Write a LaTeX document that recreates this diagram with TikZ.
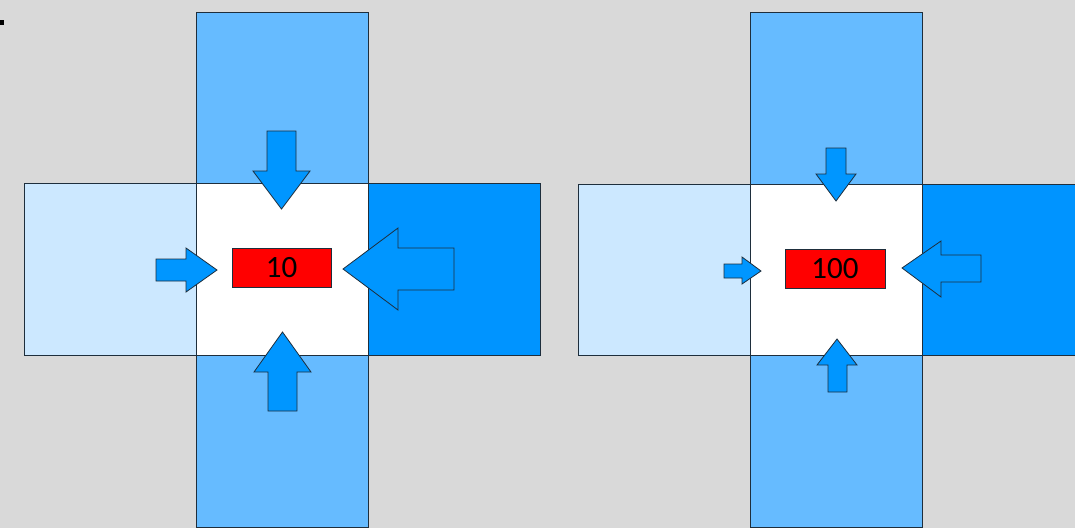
\documentclass[tikz,border=0pt]{standalone}
\usepackage{fontspec}
\setmainfont{Carlito}
\definecolor{bg}{HTML}{D9D9D9}
\definecolor{lightb}{HTML}{CCE8FF}
\definecolor{midb}{HTML}{66BBFF}
\definecolor{darkb}{HTML}{0094FF}
\definecolor{arrowb}{HTML}{0096FF}
\definecolor{edge}{HTML}{1E2E3C}
\begin{document}
\begin{tikzpicture}[x=1pt,y=-1pt,
  cell/.style={draw=edge,line width=0.8pt},
  arr/.style={fill=arrowb,draw=edge,line width=0.8pt,line join=miter},
  redbox/.style={draw=edge,line width=0.8pt,fill=red,minimum width=99pt,minimum height=39pt,inner sep=0pt,font=\fontsize{31}{31}\selectfont}]
\useasboundingbox (0,0) rectangle (1075,528);
\clip (0,0) rectangle (1075,528);
\fill[bg] (0,0) rectangle (1075,528);
\fill[black] (0,20) rectangle (4,25);
% ---------- left figure ----------
\draw[cell,fill=midb] (196,12) rectangle (368,527);
\draw[cell,fill=lightb] (24,183) rectangle (196,355);
\draw[cell,fill=darkb] (368,183) rectangle (540,355);
\draw[cell,fill=white] (196,183) rectangle (368,355);
\node[redbox] (v1) at (281.5,267.5) {10};
% top arrow
\draw[arr] (267,131) -- (296,131) -- (296,171) -- (310,171) -- (281.5,209) -- (253,171) -- (267,171) -- cycle;
% left arrow
\draw[arr] (156,259) -- (186,259) -- (186,248) -- (217,270) -- (186,292) -- (186,281) -- (156,281) -- cycle;
% right arrow
\draw[arr] (454,248) -- (398,248) -- (398,228) -- (343,269) -- (398,310) -- (398,290) -- (454,290) -- cycle;
% bottom arrow
\draw[arr] (268,411) -- (297,411) -- (297,372) -- (311,372) -- (282.5,332) -- (254,372) -- (268,372) -- cycle;
% ---------- right figure ----------
\draw[cell,fill=midb] (750,12) rectangle (922,527);
\draw[cell,fill=lightb] (578,184) rectangle (750,355);
\draw[cell,fill=darkb] (922,184) rectangle (1090,355);
\draw[cell,fill=white] (750,184) rectangle (922,355);
\node[redbox,minimum width=100pt] (v2) at (835,268.5) {100};
% top arrow
\draw[arr] (826,148) -- (846,148) -- (846,174) -- (856,174) -- (836,201) -- (816,174) -- (826,174) -- cycle;
% left arrow
\draw[arr] (724,264) -- (742,264) -- (742,257) -- (761,271) -- (742,284) -- (742,278) -- (724,278) -- cycle;
% right arrow
\draw[arr] (981,255) -- (941,255) -- (941,241) -- (902,268) -- (941,297) -- (941,282) -- (981,282) -- cycle;
% bottom arrow
\draw[arr] (828,392) -- (847,392) -- (847,365) -- (857,365) -- (837,339) -- (817,365) -- (828,365) -- cycle;
\end{tikzpicture}
\end{document}
